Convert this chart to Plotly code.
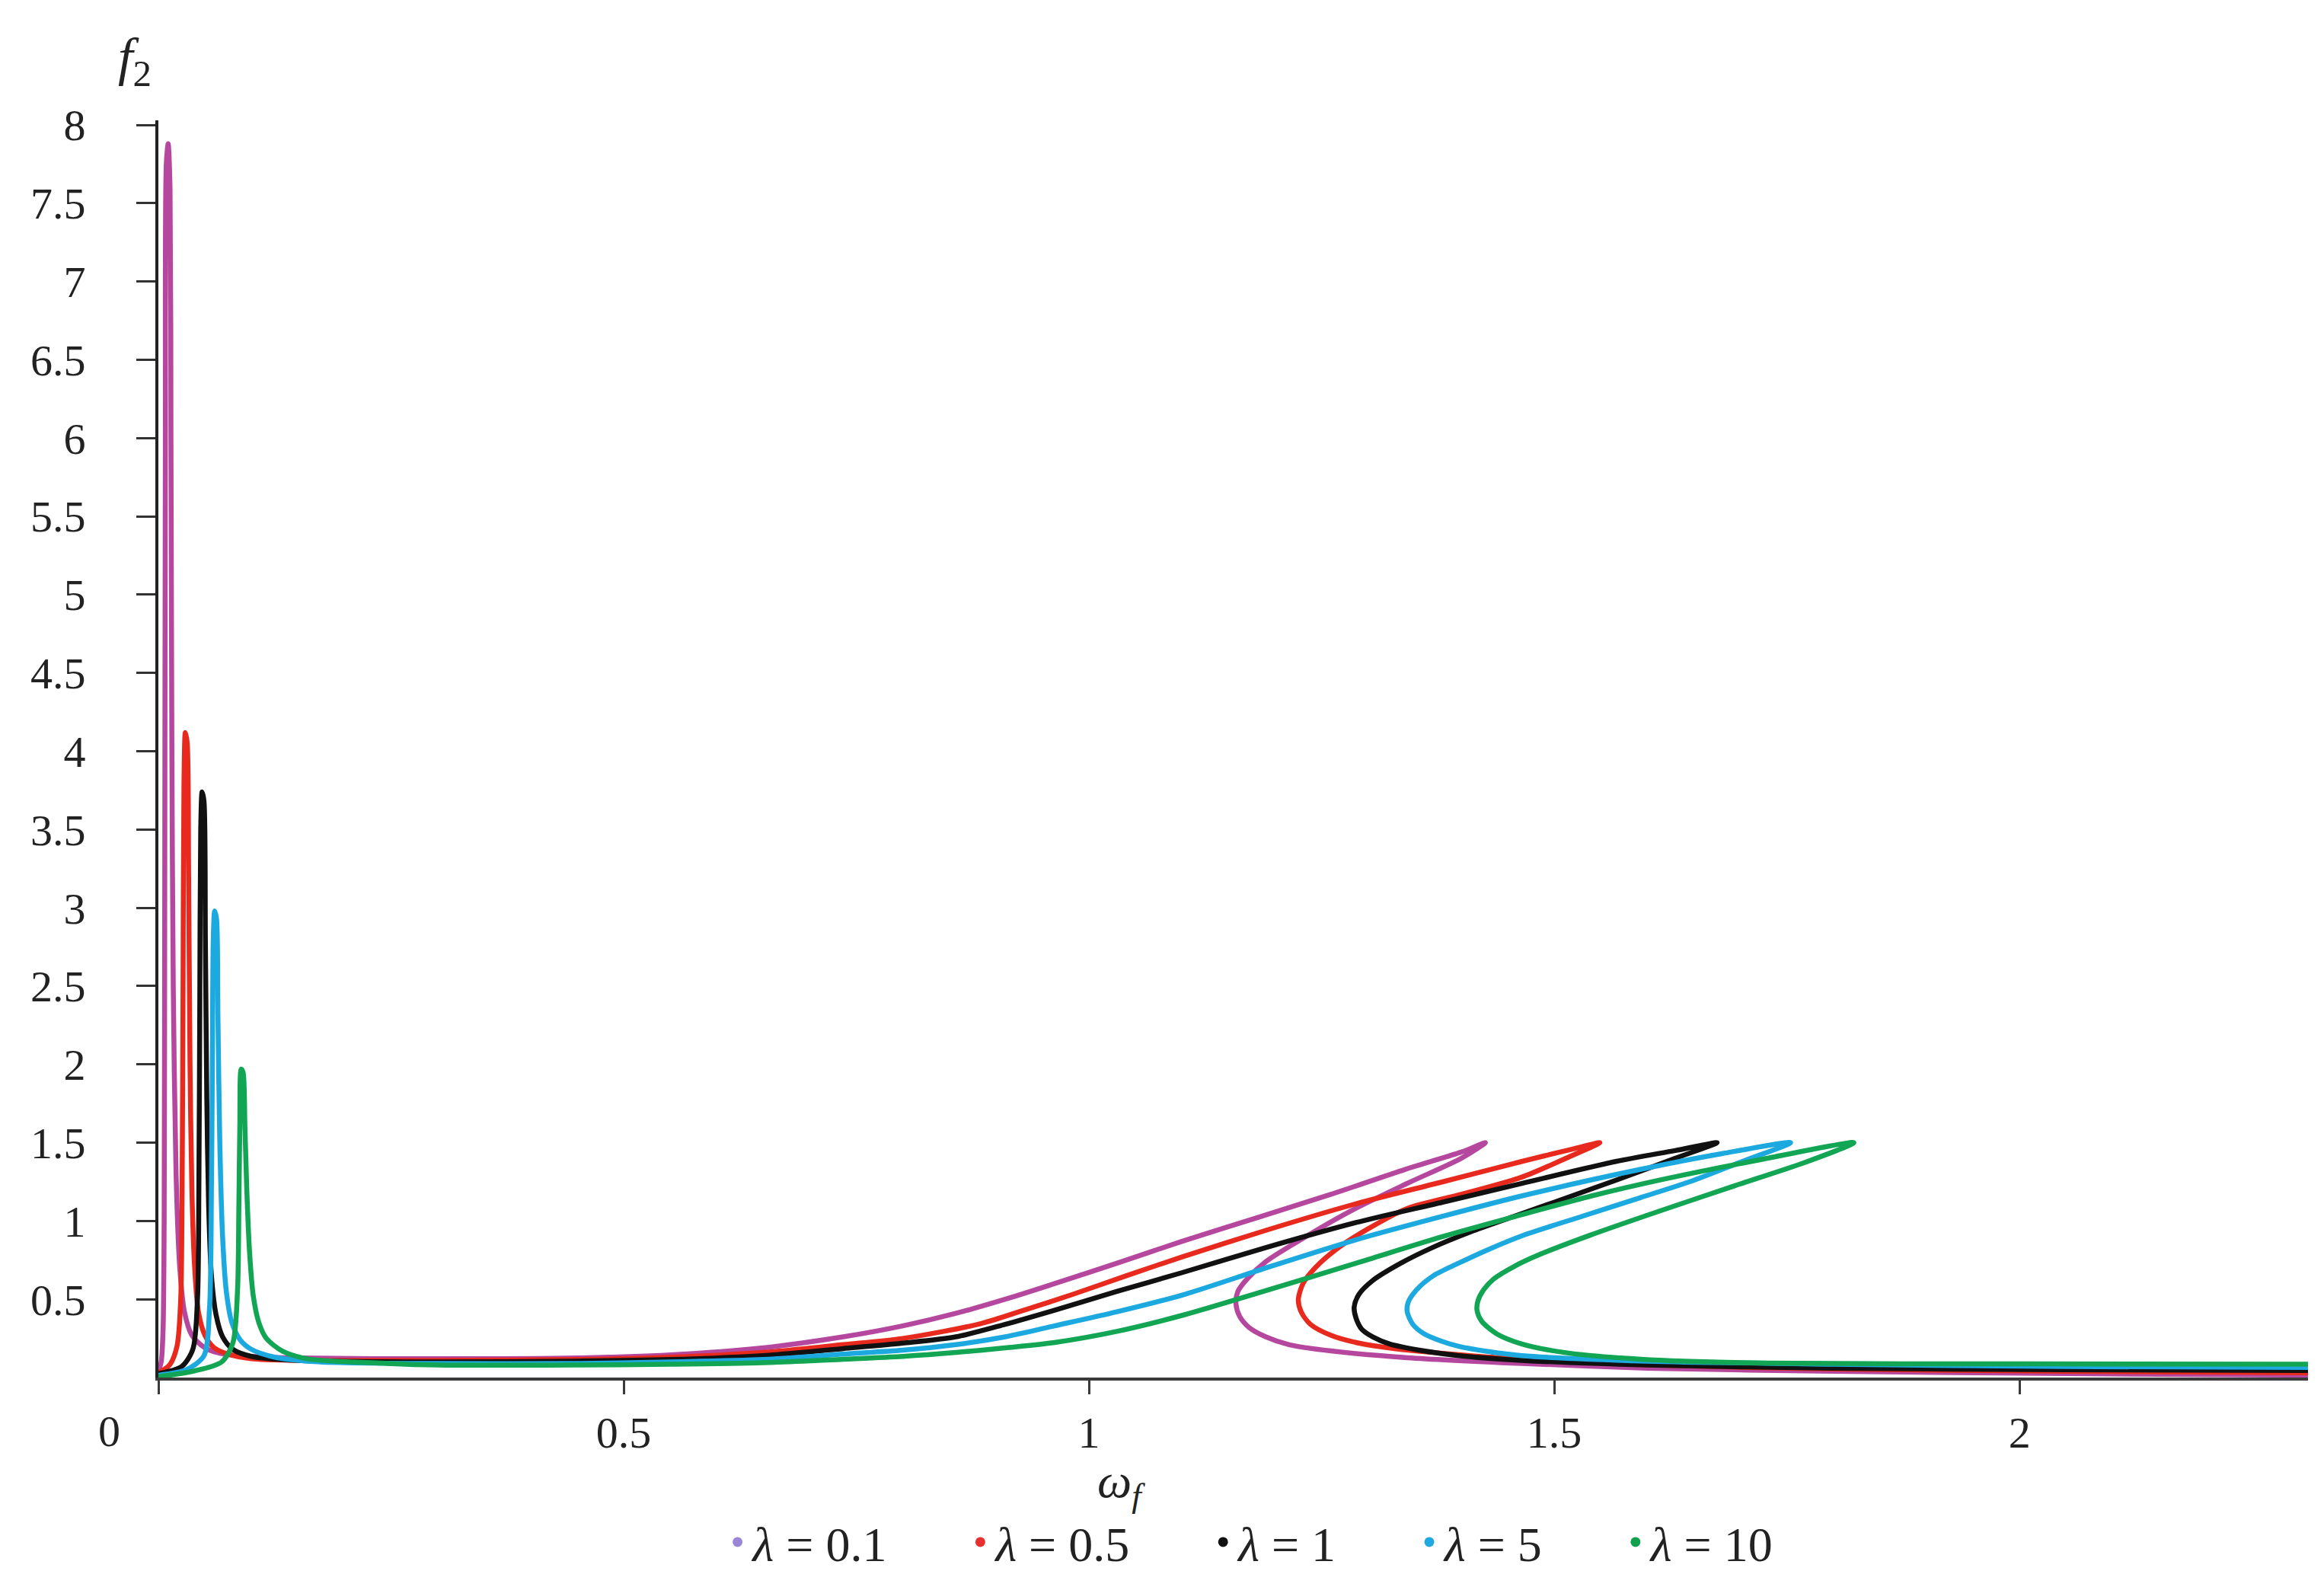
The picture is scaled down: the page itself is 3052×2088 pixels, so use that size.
import plotly.graph_objects as go

# ---- data (omega_f, f2) along each curve ----
labels = ["λ = 0.1", "λ = 0.5", "λ = 1", "λ = 5", "λ = 10"]
line_colors = ["#B5489E", "#E82A1E", "#111111", "#1CA9DF", "#12A553"]
legend_colors = ["#9B86D6", "#E83030", "#111111", "#20A8E0", "#10A050"]

x_l01 = [0.0, 0.003, 0.005, 0.0062, 0.0068, 0.0075, 0.0085, 0.0105, 0.0125, 0.0135, 0.0145, 0.016, 0.019, 0.023,
         0.028, 0.036, 0.05, 0.07, 0.1,
         0.15, 0.3, 0.45, 0.55, 0.65, 0.736, 0.80, 0.857, 0.91, 0.963, 1.03, 1.10, 1.18, 1.26, 1.34, 1.40, 1.426,
         1.40, 1.342, 1.28, 1.219, 1.19, 1.17, 1.16, 1.158, 1.162, 1.172, 1.19, 1.215, 1.26, 1.342, 1.465,
         1.6, 1.8, 2.05, 2.31]
y_l01 = [0.04, 0.1, 0.3, 1.0, 3.0, 6.0, 7.75, 7.88, 7.6, 6.0, 4.0, 2.5, 1.3, 0.7,
         0.42, 0.27, 0.19, 0.15, 0.135,
         0.125, 0.12, 0.125, 0.145, 0.19, 0.26, 0.33, 0.41, 0.50, 0.60, 0.73, 0.87, 1.02, 1.17, 1.33, 1.44, 1.50,
         1.40, 1.24, 1.06, 0.85, 0.74, 0.63, 0.55, 0.47, 0.39, 0.32, 0.26, 0.21, 0.17, 0.127, 0.09,
         0.06, 0.04, 0.025, 0.015]

x_l05 = [0.0, 0.012, 0.02, 0.024, 0.0255, 0.0265, 0.0275, 0.029, 0.031, 0.0325, 0.034, 0.036, 0.039, 0.043,
         0.05, 0.06, 0.075, 0.1,
         0.15, 0.3, 0.45, 0.55, 0.65, 0.736, 0.80, 0.884, 0.93, 0.982, 1.04, 1.10, 1.19, 1.287, 1.38, 1.465, 1.52, 1.549,
         1.52, 1.465, 1.40, 1.342, 1.30, 1.266, 1.243, 1.23, 1.225, 1.228, 1.238, 1.26, 1.29, 1.328, 1.40, 1.465,
         1.6, 1.8, 2.05, 2.31]
y_l05 = [0.03, 0.08, 0.2, 0.5, 1.2, 2.5, 3.8, 4.12, 4.05, 3.2, 2.0, 1.2, 0.7, 0.42,
         0.27, 0.19, 0.15, 0.12,
         0.11, 0.11, 0.115, 0.13, 0.16, 0.21, 0.25, 0.345, 0.43, 0.53, 0.65, 0.77, 0.94, 1.11, 1.25, 1.38, 1.46, 1.50,
         1.42, 1.28, 1.17, 1.08, 0.95, 0.82, 0.70, 0.60, 0.50, 0.42, 0.34, 0.27, 0.22, 0.185, 0.145, 0.117,
         0.08, 0.055, 0.04, 0.03]

x_l1 = [0.0, 0.025, 0.037, 0.042, 0.0435, 0.0445, 0.0455, 0.047, 0.049, 0.0505, 0.052, 0.054, 0.057, 0.062,
        0.069, 0.08, 0.1,
        0.15, 0.3, 0.45, 0.55, 0.65, 0.736, 0.80, 0.857, 0.91, 0.963, 1.03, 1.10, 1.19, 1.287, 1.38, 1.465, 1.566, 1.63, 1.675,
        1.63, 1.566, 1.50, 1.457, 1.41, 1.369, 1.335, 1.305, 1.29, 1.285, 1.287, 1.293, 1.305, 1.323, 1.36, 1.397, 1.465,
        1.6, 1.8, 2.05, 2.31]
y_l1 = [0.025, 0.07, 0.18, 0.5, 1.2, 2.4, 3.5, 3.74, 3.68, 2.8, 1.8, 1.1, 0.65, 0.4,
        0.26, 0.18, 0.135,
        0.11, 0.10, 0.105, 0.115, 0.14, 0.185, 0.22, 0.26, 0.34, 0.43, 0.55, 0.67, 0.83, 0.99, 1.12, 1.24, 1.38, 1.45, 1.50,
        1.40, 1.26, 1.12, 1.03, 0.93, 0.83, 0.73, 0.62, 0.53, 0.45, 0.38, 0.31, 0.26, 0.215, 0.17, 0.14, 0.11,
        0.08, 0.06, 0.05, 0.045]

x_l5 = [0.0, 0.03, 0.049, 0.055, 0.057, 0.058, 0.059, 0.0605, 0.0625, 0.064, 0.066, 0.069, 0.073, 0.079,
        0.088, 0.1, 0.125, 0.16,
        0.2, 0.3, 0.45, 0.55, 0.65, 0.736, 0.80, 0.857, 0.91, 0.963, 1.03, 1.102, 1.19, 1.287, 1.38, 1.465, 1.593, 1.68, 1.754,
        1.702, 1.65, 1.593, 1.53, 1.465, 1.43, 1.397, 1.37, 1.352, 1.343, 1.342, 1.348, 1.36, 1.38, 1.397, 1.43, 1.465,
        1.6, 1.8, 2.05, 2.31]
y_l5 = [0.015, 0.05, 0.14, 0.45, 1.2, 2.0, 2.8, 2.98, 2.93, 2.3, 1.5, 0.9, 0.55, 0.35,
        0.24, 0.18, 0.13, 0.105,
        0.095, 0.09, 0.09, 0.10, 0.115, 0.15, 0.175, 0.21, 0.26, 0.33, 0.42, 0.53, 0.70, 0.88, 1.03, 1.16, 1.33, 1.43, 1.50,
        1.38, 1.26, 1.15, 1.03, 0.905, 0.82, 0.73, 0.65, 0.56, 0.48, 0.42, 0.34, 0.28, 0.23, 0.20, 0.165, 0.14,
        0.105, 0.085, 0.07, 0.065]

x_l10 = [0.0, 0.037, 0.068, 0.08, 0.085, 0.0865, 0.0875, 0.089, 0.091, 0.093, 0.095, 0.098, 0.102, 0.108,
         0.116, 0.133, 0.16, 0.24,
         0.3, 0.45, 0.55, 0.65, 0.736, 0.80, 0.857, 0.91, 0.963, 1.03, 1.102, 1.19, 1.287, 1.38, 1.465, 1.54, 1.62, 1.72, 1.822,
         1.77, 1.694, 1.614, 1.539, 1.484, 1.457, 1.435, 1.424, 1.418, 1.417, 1.422, 1.438, 1.465, 1.511, 1.593, 1.729,
         2.0, 2.31]
y_l10 = [0.005, 0.04, 0.1, 0.22, 0.55, 1.1, 1.6, 1.97, 1.95, 1.6, 1.2, 0.8, 0.52, 0.35,
         0.25, 0.17, 0.12, 0.092,
         0.08, 0.08, 0.085, 0.095, 0.117, 0.135, 0.16, 0.19, 0.224, 0.295, 0.40, 0.555, 0.73, 0.90, 1.04, 1.16, 1.27, 1.39, 1.50,
         1.375, 1.225, 1.065, 0.91, 0.785, 0.71, 0.63, 0.56, 0.49, 0.43, 0.36, 0.28, 0.215, 0.16, 0.117, 0.092,
         0.087, 0.085]

series_x = [x_l01, x_l05, x_l1, x_l5, x_l10]
series_y = [y_l01, y_l05, y_l1, y_l5, y_l10]

x_tickvals = [0, 0.5, 1, 1.5, 2]
x_ticktext = ["", "0.5", "1", "1.5", "2"]
y_tickvals = [0.5, 1, 1.5, 2, 2.5, 3, 3.5, 4, 4.5, 5, 5.5, 6, 6.5, 7, 7.5, 8]
y_ticktext = ["0.5", "1", "1.5", "2", "2.5", "3", "3.5", "4", "4.5", "5", "5.5", "6", "6.5", "7", "7.5", "8"]

FONT = "'Liberation Serif', 'Times New Roman', 'DejaVu Serif', serif"
TXT = "#222222"

fig = go.Figure()
for xs, ys, c in zip(series_x, series_y, line_colors):
    fig.add_trace(go.Scatter(x=xs, y=ys, mode="lines",
                             line=dict(color=c, width=6.5, shape="spline", smoothing=0.8),
                             showlegend=False, hoverinfo="skip"))
n_items = len(labels)
for i, (lab, c) in enumerate(zip(labels, legend_colors)):
    name = lab.replace("λ", "<i>λ</i>")
    if i < n_items - 1:
        name += "\u00a0" * 6
    fig.add_trace(go.Scatter(x=[None], y=[None], mode="markers", name=name,
                             marker=dict(color=c, size=13, symbol="circle")))

fig.update_layout(
    width=3052, height=2088,
    margin=dict(l=200, r=29, t=150, b=287),
    paper_bgcolor="white", plot_bgcolor="white",
    font=dict(family=FONT, size=58, color=TXT),
    legend=dict(orientation="h", x=0.508, xanchor="center", y=-0.131, yanchor="middle",
                font=dict(family=FONT, size=64, color=TXT), itemwidth=30),
)
fig.update_xaxes(range=[0, 2.31], showgrid=False, zeroline=False, showline=True,
                 linecolor="#3a3a3a", linewidth=4, ticks="outside", ticklen=18, tickwidth=3,
                 tickcolor="#3a3a3a", tickvals=x_tickvals, ticktext=x_ticktext,
                 tickfont=dict(family=FONT, size=58, color=TXT), ticklabelstandoff=0)
fig.update_yaxes(range=[0, 8.03], showgrid=False, zeroline=False, showline=True,
                 linecolor="#222222", linewidth=4, ticks="outside", ticklen=25, tickwidth=3,
                 tickcolor="#333333", tickvals=y_tickvals, ticktext=y_ticktext,
                 tickfont=dict(family=FONT, size=58, color=TXT), ticklabelstandoff=55)

fig.add_annotation(text="<i>f</i><sub>2</sub>", xref="paper", yref="paper", x=-0.011, y=1.047,
                   xanchor="center", yanchor="middle", showarrow=False,
                   font=dict(family=FONT, size=70, color=TXT))
fig.add_annotation(text="<i>ω<sub>f</sub></i>", xref="paper", yref="paper", x=0.448, y=-0.085,
                   xanchor="center", yanchor="middle", showarrow=False,
                   font=dict(family=FONT, size=64, color=TXT))
fig.add_annotation(text="0", xref="paper", yref="paper", x=-0.023, y=-0.043,
                   xanchor="center", yanchor="middle", showarrow=False,
                   font=dict(family=FONT, size=58, color=TXT))

fig.write_html("out.html")
